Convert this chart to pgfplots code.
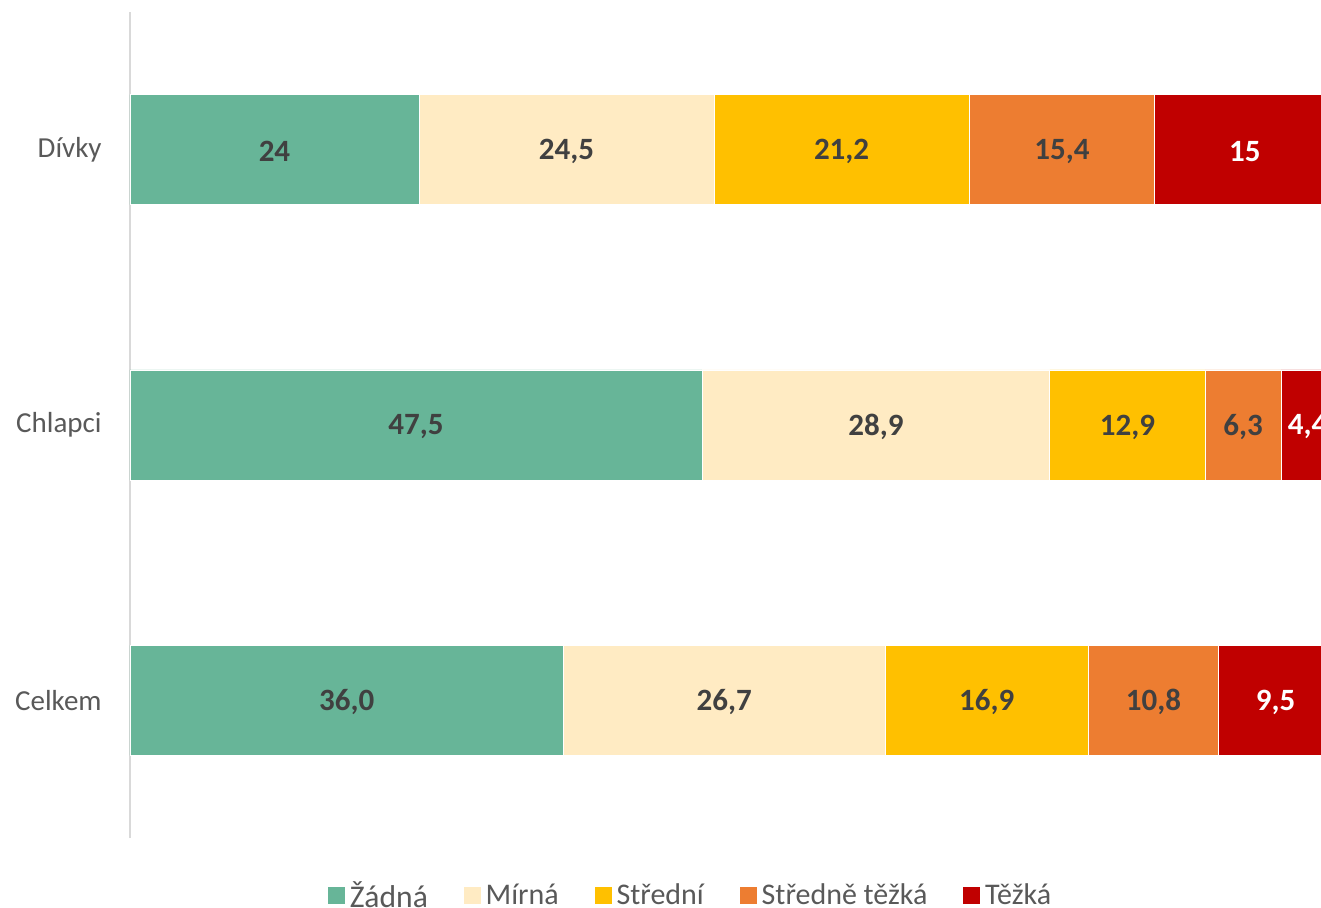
\documentclass[border=0pt]{standalone}
\usepackage{pgfplots}
\pgfplotsset{compat=1.18}
\usepackage{pgfplotstable}
\usepackage{fontspec}
\setmainfont{Carlito}
\definecolor{cZ}{RGB}{103,181,152}
\definecolor{cM}{RGB}{255,235,195}
\definecolor{cS}{RGB}{255,192,0}
\definecolor{cST}{RGB}{237,125,49}
\definecolor{cT}{RGB}{192,0,0}
\definecolor{labc}{RGB}{64,64,64}
\definecolor{tickc}{RGB}{89,89,89}
\definecolor{axc}{RGB}{217,217,217}

\pgfplotstableread{
y x lab
0 36.0 36{,}0
1 47.5 47{,}5
2 24 24
}\tZadna
\pgfplotstableread{
y x lab
0 26.7 26{,}7
1 28.9 28{,}9
2 24.5 24{,}5
}\tMirna
\pgfplotstableread{
y x lab
0 16.9 16{,}9
1 12.9 12{,}9
2 21.2 21{,}2
}\tStredni
\pgfplotstableread{
y x lab
0 10.8 10{,}8
1 6.3 6{,}3
2 15.4 15{,}4
}\tStredneTezka
\pgfplotstableread{
y x lab
0 9.5 9{,}5
1 4.4 4{,}4
2 15 15
}\tTezka

\begin{document}
\begin{tikzpicture}
\path[use as bounding box] (-65pt,-34.5pt) rectangle (595.5pt,419pt);
\begin{axis}[
  at={(0,0)}, anchor=south west,
  scale only axis, width=608.02pt, height=413pt,
  xbar stacked, bar width=0.4,
  xmin=0, xmax=101, ymin=-0.5, ymax=2.5,
  enlargelimits=false,
  axis x line=none,
  axis y line*=left,
  y axis line style={draw=axc, line width=1pt, -},
  ytick={0,1,2},
  yticklabels={Celkem,Chlapci,Dívky},
  major tick length=0pt,
  ytick style={draw=none},
  yticklabel style={font=\fontsize{14.5}{17}\selectfont, text=tickc, inner sep=0pt, xshift=-14pt},
  point meta=explicit symbolic,
  nodes near coords,
  nodes near coords style={anchor=center, font=\fontsize{15.5}{18}\selectfont\bfseries, text=labc, yshift=-1pt},
  legend style={at={(0.1620,-0.0700)}, anchor=west, draw=none, fill=none,
    legend columns=-1, inner sep=0pt, outer sep=0pt,
    font=\fontsize{15}{17}\selectfont, text=tickc,
    /tikz/every even column/.append style={column sep=15.5pt}},
  legend image code/.code={\fill[#1] (0pt,-4.5pt) rectangle (9pt,4.5pt);},
]
\addplot[fill=cZ, draw=white, line width=0.4pt]
  table[x=x, y=y, meta=lab] {\tZadna};
\addlegendentry{{\fontsize{15.8}{17}\selectfont Žádná}}
\addplot[fill=cM, draw=white, line width=0.4pt]
  table[x=x, y=y, meta=lab] {\tMirna};
\addlegendentry{Mírná}
\addplot[fill=cS, draw=white, line width=0.4pt]
  table[x=x, y=y, meta=lab] {\tStredni};
\addlegendentry{Střední}
\addplot[fill=cST, draw=white, line width=0.4pt]
  table[x=x, y=y, meta=lab] {\tStredneTezka};
\addlegendentry{Středně těžká}
\addplot[fill=cT, draw=white, line width=0.4pt,
  nodes near coords style={text=white}]
  table[x=x, y=y, meta=lab] {\tTezka};
\addlegendentry{Těžká}
\end{axis}
\end{tikzpicture}
\end{document}
